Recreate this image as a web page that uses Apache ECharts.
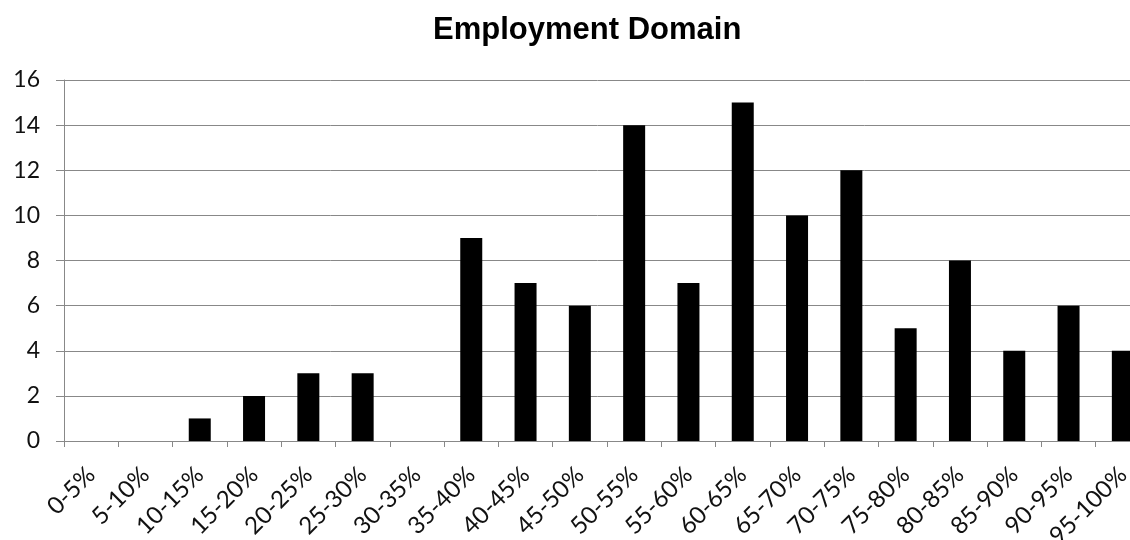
<!DOCTYPE html>
<html>
<head>
<meta charset="utf-8">
<script src="https://cdn.jsdelivr.net/npm/echarts@6/dist/echarts.min.js"></script>
<style>html,body{margin:0;padding:0;background:#fff}#c{width:1130px;height:540px}</style>
</head>
<body>
<div id="c"></div>
<script>
const categories = ['0-5%','5-10%','10-15%','15-20%','20-25%','25-30%','30-35%','35-40%','40-45%','45-50%','50-55%','55-60%','60-65%','65-70%','70-75%','75-80%','80-85%','85-90%','90-95%','95-100%'];
const values = [0,0,1,2,3,3,0,9,7,6,14,7,15,10,12,5,8,4,6,4];
const titleText = 'Employment Domain';

const chart = echarts.init(document.getElementById('c'), null, {renderer:'canvas'});
chart.setOption({
  animation: false,
  backgroundColor: '#fff',
  title: {
    text: titleText,
    left: 428, top: 10,
    textStyle: {fontFamily: 'Liberation Sans', fontWeight: 'bold', fontSize: 31, color: '#000'}
  },
  grid: {left: 64, width: 1086, top: 80, height: 361, containLabel: false, outerBoundsMode: 'none'},
  xAxis: {
    type: 'category',
    data: categories,
    boundaryGap: true,
    axisLine: {show: true, lineStyle: {color: '#888', width: 1}},
    axisTick: {show: true, length: 6, alignWithLabel: false, lineStyle: {color: '#888'}},
    axisLabel: {rotate: 45, interval: 0, margin: 30, fontFamily: 'Lato', fontSize: 24, color: '#111'}
  },
  yAxis: {
    type: 'value', min: 0, max: 16, interval: 2,
    axisLine: {show: true, lineStyle: {color: '#888', width: 1}},
    axisTick: {show: true, length: 8, lineStyle: {color: '#888'}},
    splitLine: {show: true, lineStyle: {color: '#888', width: 1}},
    axisLabel: {margin: 24, fontFamily: 'Lato', fontSize: 23, color: '#111'}
  },
  series: [{
    type: 'bar',
    data: values,
    barWidth: 22,
    itemStyle: {color: '#000'}
  }]
});
</script>
</body>
</html>
